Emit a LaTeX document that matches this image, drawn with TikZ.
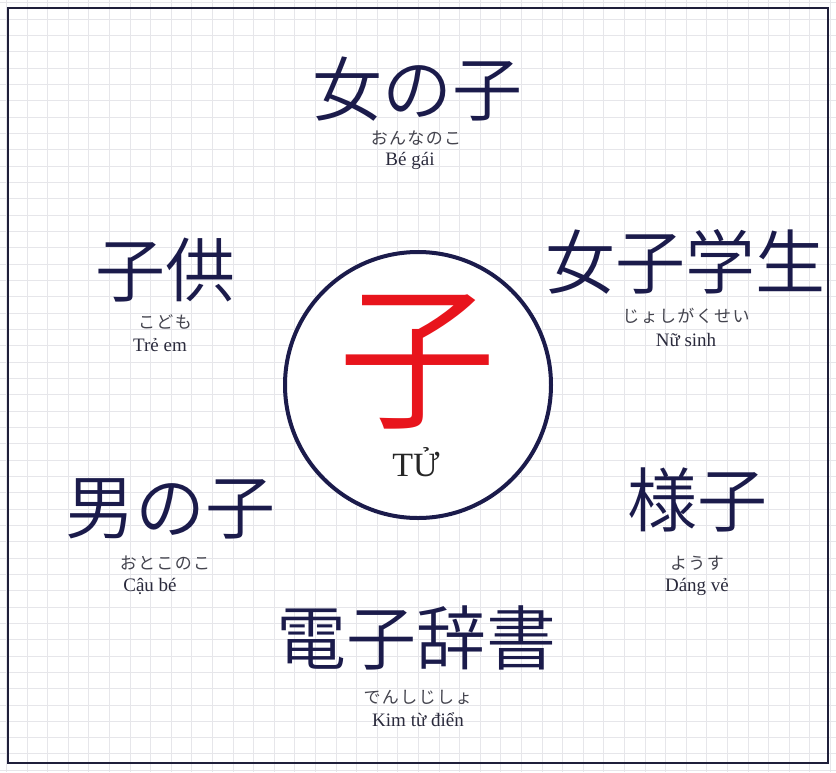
\documentclass[tikz,border=0pt]{standalone}
\usepackage{fontspec}
\setmainfont{Liberation Serif}
\newfontfamily\jpfont{Noto Sans CJK JP DemiLight}
\newfontfamily\kanafont[LetterSpace=8]{Noto Sans CJK JP}
\usetikzlibrary{positioning}
\usepackage{xcolor}
\definecolor{ink}{HTML}{1B1B4B}
\definecolor{frame}{HTML}{1F1F3A}
\definecolor{soft}{HTML}{44444E}
\definecolor{viet}{HTML}{2A2A3C}
\definecolor{gridc}{HTML}{E6E6EA}
\definecolor{hot}{HTML}{E8141C}
\tikzset{
  word/.style={inner sep=0pt, color=ink, font=\jpfont\fontsize{70}{70}\selectfont},
  kana/.style={inner sep=0pt, color=soft, font=\kanafont\fontsize{17}{17}\selectfont},
  mean/.style={inner sep=0pt, color=viet, font=\fontsize{19}{19}\selectfont},
  ring/.style={draw=ink, line width=4pt, fill=white, circle, minimum size=266pt, inner sep=0pt}
}

\begin{document}
\begin{tikzpicture}[x=1pt,y=-1pt]
  \useasboundingbox (0,0) rectangle (836,772);
  \fill[white] (0,0) rectangle (836,772);
  % squared paper
  \foreach \i in {0,...,40}
    \draw[gridc, line width=0.8pt] (6.4+20.6*\i,0) -- (6.4+20.6*\i,772);
  \foreach \j in {0,...,47}
    \draw[gridc, line width=0.8pt] (0,2.7+16.33*\j) -- (836,2.7+16.33*\j);
  \draw[frame, line width=2.8pt] (8,8) rectangle (828,763);

  % centre
  \node[ring] (hub) at (418,385) {};
  \node[inner sep=0pt, color=hot, font=\jpfont\fontsize{158}{158}\selectfont] (ko) at (417,362) {子};
  \node[inner sep=0pt, color=black!85, font=\fontsize{34}{34}\selectfont] (tu) at (416,462) {TỬ};

  % words
  \node[word] (onnanoko) at (417,89) {女の子};
  \node[kana] (onnanokoR) at (416,138) {おんなのこ};
  \node[mean] (onnanokoV) at (410,161) {Bé gái};

  \node[word] (kodomo) at (165,270) {子供};
  \node[kana] (kodomoR) at (165,322) {こども};
  \node[mean] (kodomoV) at (160,345) {Trẻ em};

  \node[word] (joshi) at (685,262) {女子学生};
  \node[kana] (joshiR) at (686,316) {じょしがくせい};
  \node[mean] (joshiV) at (686,340) {Nữ sinh};

  \node[word] (otoko) at (170,509) {男の子};
  \node[kana] (otokoR) at (165,563) {おとこのこ};
  \node[mean] (otokoV) at (150,586) {Cậu bé};

  \node[word] (yousu) at (697,500) {様子};
  \node[kana] (yousuR) at (697,563) {ようす};
  \node[mean] (yousuV) at (697,587) {Dáng vẻ};

  \node[word] (denshi) at (416,638) {電子辞書};
  \node[kana] (denshiR) at (418,697) {でんしじしょ};
  \node[mean] (denshiV) at (418,720) {Kim từ điển};
\end{tikzpicture}
\end{document}
